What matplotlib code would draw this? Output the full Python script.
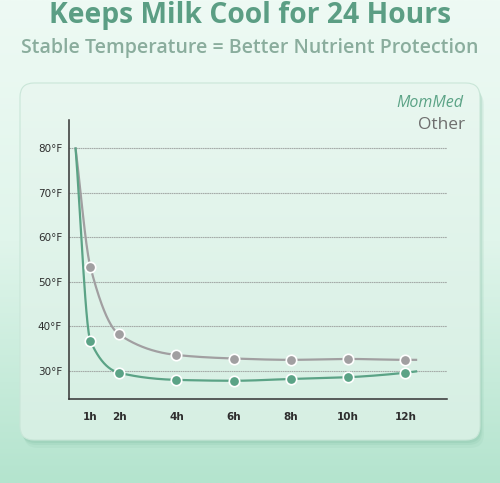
import numpy as np
import matplotlib.pyplot as plt
from matplotlib.patches import FancyBboxPatch
from matplotlib.colors import LinearSegmentedColormap

hours = [1, 2, 4, 6, 8, 10, 12]
tick_labels = ['1h', '2h', '4h', '6h', '8h', '10h', '12h']
mommed = [36.7, 29.6, 28.0, 27.8, 28.2, 28.6, 29.6]
other = [53.3, 38.2, 33.6, 32.8, 32.5, 32.7, 32.5]
start_hour, start_temp = 0.48, 80
end_hour = 12.37
mommed_end, other_end = 29.9, 32.5
y_ticks = [30, 40, 50, 60, 70, 80]

GREEN = '#5ba386'
GREY = '#a19fa1'


def pchip(x, y, xs):
    x = np.asarray(x, float)
    y = np.asarray(y, float)
    h = np.diff(x)
    d = np.diff(y) / h
    m = np.zeros_like(y)
    m[0], m[-1] = d[0], d[-1]
    for k in range(1, len(x) - 1):
        if d[k - 1] * d[k] > 0:
            w1 = 2 * h[k] + h[k - 1]
            w2 = h[k] + 2 * h[k - 1]
            m[k] = (w1 + w2) / (w1 / d[k - 1] + w2 / d[k])
    idx = np.clip(np.searchsorted(x, xs) - 1, 0, len(x) - 2)
    t = (xs - x[idx]) / h[idx]
    h00 = 2 * t**3 - 3 * t**2 + 1
    h10 = t**3 - 2 * t**2 + t
    h01 = -2 * t**3 + 3 * t**2
    h11 = t**3 - t**2
    return h00 * y[idx] + h10 * h[idx] * m[idx] + h01 * y[idx + 1] + h11 * h[idx] * m[idx + 1]


fig = plt.figure(figsize=(5, 4.83), dpi=100)

# background gradient + card
bg = fig.add_axes([0, 0, 1, 1])
bg.set_xlim(0, 500)
bg.set_ylim(483, 0)
bg.axis('off')
bg_cmap = LinearSegmentedColormap.from_list('bg', ['#eefaf4', '#e0f5eb', '#b4e4ce'])
bg.imshow(np.linspace(0, 1, 200).reshape(-1, 1), cmap=bg_cmap, aspect='auto',
          extent=[0, 500, 483, 0], zorder=0)
for off, a in [(8, 0.12), (5, 0.18), (3, 0.25)]:
    shadow = FancyBboxPatch((20 + off / 2, 83 + off), 460, 357, boxstyle='round,pad=0,rounding_size=14',
                            fc='#86c1a7', ec='none', alpha=a, zorder=1)
    bg.add_patch(shadow)
card = FancyBboxPatch((20, 83), 460, 357, boxstyle='round,pad=0,rounding_size=14',
                      fc='none', ec='#c9e6d8', lw=0.8, zorder=3)
bg.add_patch(card)
card_cmap = LinearSegmentedColormap.from_list('card', ['#e9f7f0', '#d6efe3'])
im = bg.imshow(np.linspace(0, 1, 200).reshape(-1, 1), cmap=card_cmap, aspect='auto',
               extent=[20, 480, 440, 83], zorder=2)
im.set_clip_path(card)

fig.text(0.5, 1 - 15 / 483, 'Keeps Milk Cool for 24 Hours', ha='center', va='center',
         fontsize=20.3, fontweight='bold', color='#5b9e84', family='Open Sans')
fig.text(0.5, 1 - 48 / 483, 'Stable Temperature = Better Nutrient Protection', ha='center',
         va='center', fontsize=14, fontweight='semibold', color='#8aad9d', family='Open Sans')
fig.text(463 / 500, 1 - 103 / 483, 'MomMed', ha='right', va='center', fontsize=11.5,
         style='italic', color=GREEN, family='Open Sans')
fig.text(465 / 500, 1 - 125 / 483, 'Other', ha='right', va='center', fontsize=12.5,
         color='#6e6e6e', family='Open Sans')

ax = fig.add_axes([69 / 500, 84 / 483, 378 / 500, 279 / 483])
ax.patch.set_alpha(0)
ax.set_xlim(0.25, 13.45)
ax.set_ylim(23.7, 86.4)
for s in ['top', 'right']:
    ax.spines[s].set_visible(False)
for s in ['left', 'bottom']:
    ax.spines[s].set_color('#333333')
    ax.spines[s].set_linewidth(1.1)
ax.set_yticks(y_ticks)
ax.set_yticklabels([f'{v}°F' for v in y_ticks])
ax.set_xticks(hours)
ax.set_xticklabels(tick_labels)
ax.tick_params(length=0, labelsize=7.5, labelcolor='#2e2e2e', pad=5)
ax.tick_params(axis='x', pad=9)
for lab in ax.get_xticklabels():
    lab.set_fontweight('semibold')
ax.grid(axis='y', color='#a5aba8', lw=0.8, ls=(0, (1.5, 0.5)))
ax.set_axisbelow(True)

for vals, end, color in [(other, other_end, GREY), (mommed, mommed_end, GREEN)]:
    xs = [start_hour] + hours + [end_hour]
    ys = [start_temp] + vals + [end]
    xx = np.linspace(xs[0], xs[-1], 600)
    ax.plot(xx, pchip(xs, ys, xx), color=color, lw=1.6, zorder=3)
    ax.plot(hours, vals, 'o', color=color, ms=7.5, mec='white', mew=1.2, zorder=4)

fig.savefig('out.png', dpi=100)
